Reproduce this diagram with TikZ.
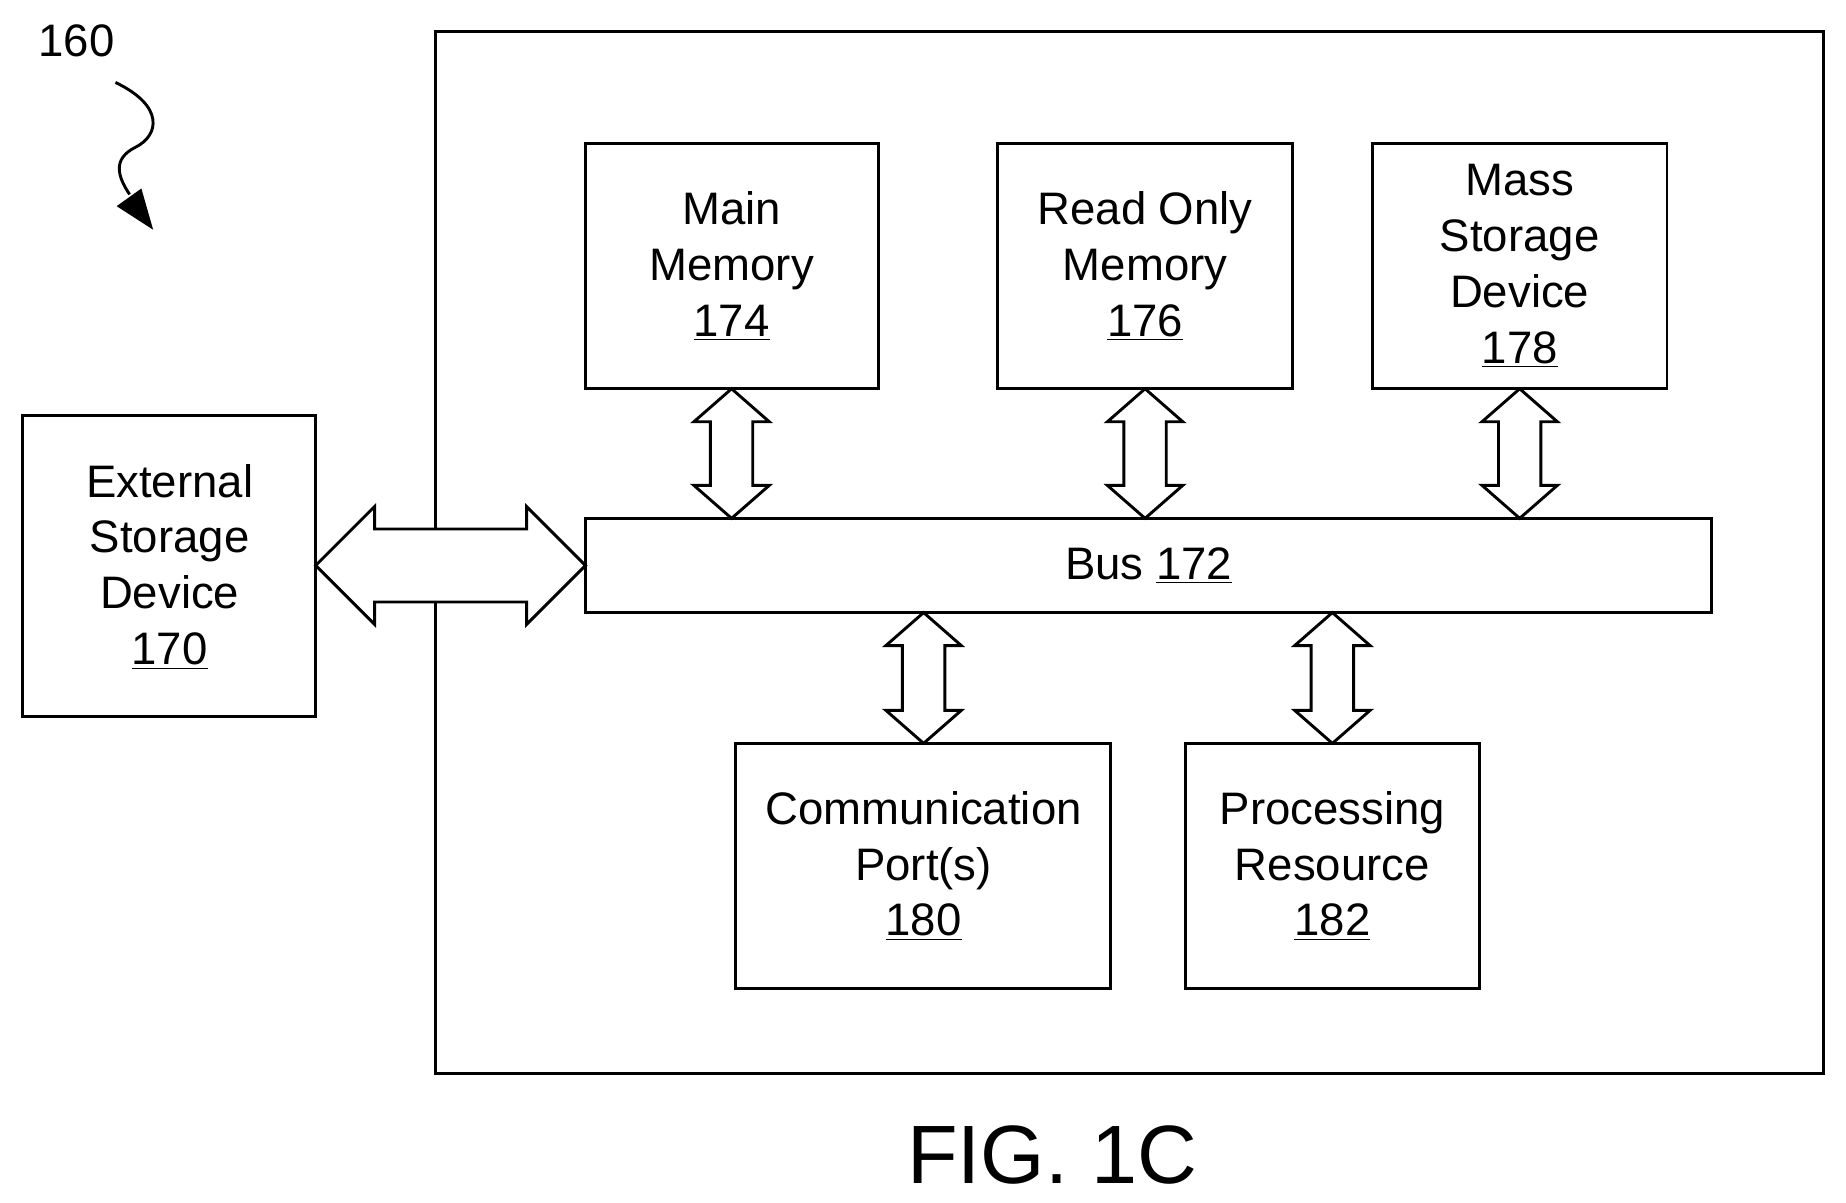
\documentclass[tikz,border=0pt]{standalone}
\usepackage{fontspec}
\setmainfont{Liberation Sans}
\begin{document}
\newcommand{\myDV}[3]{\draw[arr] (#1,#2) -- (#1+32,#2+28) -- (#1+18,#2+28) -- (#1+18,#3-28) -- (#1+32,#3-28) -- (#1,#3) -- (#1-32,#3-28) -- (#1-18,#3-28) -- (#1-18,#2+28) -- (#1-32,#2+28) -- cycle;}
\begin{tikzpicture}[x=0.02cm,y=-0.02cm,
  box/.style={draw,line width=1.4pt},
  lbl/.style={align=center,font=\fontsize{22}{27}\selectfont},
  arr/.style={draw,line width=1.4pt,fill=white,line join=miter}]
\useasboundingbox (0,0) rectangle (1567,1021);
\draw[box] (370,27) rectangle (1548,911);
\draw[box] (497,122) rectangle (746,330); \node[lbl] (mm) at (621,226) {Main\\Memory\\\underline{174}};
\draw[box] (847,122) rectangle (1097,330); \node[lbl] (rom) at (972,226) {Read Only\\Memory\\\underline{176}};
\draw[box] (1165,122) rectangle (1415,330); \node[lbl] (ms) at (1290,226) {Mass\\Storage\\Device\\\underline{178}};
\draw[box] (497,440) rectangle (1453,520); \node[lbl] (bus) at (975,480) {Bus \underline{172}};
\draw[box] (19,353) rectangle (268,608); \node[lbl] (ext) at (144,481) {External\\Storage\\Device\\\underline{170}};
\draw[box] (624,631) rectangle (943,839); \node[lbl] (cp) at (784,735) {Communication\\Port(s)\\\underline{180}};
\draw[box] (1006,631) rectangle (1256,839); \node[lbl] (pr) at (1131,735) {Processing\\Resource\\\underline{182}};
\myDV{621}{330}{440}
\myDV{972}{330}{440}
\myDV{1290}{330}{440}
\myDV{784}{520}{631}
\myDV{1131}{520}{631}
\draw[arr] (268,480) -- (318,430) -- (318,449) -- (447,449) -- (447,430) -- (497,480) -- (447,530) -- (447,511) -- (318,511) -- (318,530) -- cycle;
\node[font=\fontsize{22}{27}\selectfont] (n160) at (65,35) {160};
\coordinate (s0) at (98,70);
\draw[line width=1.4pt] (s0) .. controls (140,90) and (135,115) .. (115,125) .. controls (95,135) and (100,150) .. (110,165);
\fill (130,195) -- (99,175) -- (120,160) -- cycle;
\node[font=\fontsize{40}{48}\selectfont] (fig) at (893,980) {FIG. 1C};
\end{tikzpicture}
\end{document}
